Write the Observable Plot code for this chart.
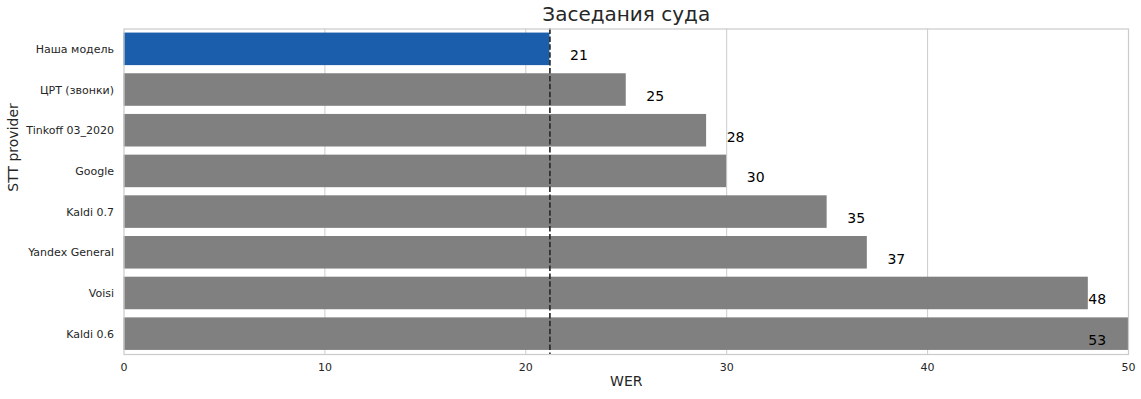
<!DOCTYPE html>
<html>
<head>
<meta charset="utf-8">
<script src="https://cdn.jsdelivr.net/npm/d3@7"></script>
<script src="https://cdn.jsdelivr.net/npm/@observablehq/plot@0.6"></script>
<style>
  html, body { margin: 0; padding: 0; background: #fff; }
  #chart { width: 1141px; height: 399px; }
  svg { font-family: "DejaVu Sans", sans-serif; }
</style>
</head>
<body>
<div id="chart"></div>
<script>
const providers = ["Наша модель", "ЦРТ (звонки)", "Tinkoff 03_2020", "Google", "Kaldi 0.7", "Yandex General", "Voisi", "Kaldi 0.6"];
const wer = [21.2, 25, 29, 30, 35, 37, 48, 53];
const werLabels = ["21", "25", "28", "30", "35", "37", "48", "53"];
const highlight = "Наша модель";
const baseline = 21.2;
const xTicks = [0, 10, 20, 30, 40, 50];
const title = "Заседания суда";

const data = providers.map((p, i) => ({provider: p, wer: wer[i], label: werLabels[i]}));

const chart = Plot.plot({
  width: 1141,
  height: 399,
  marginLeft: 123.5,
  marginRight: 13,
  marginTop: 28.5,
  marginBottom: 45,
  style: {fontFamily: "DejaVu Sans, sans-serif", background: "#fff"},
  x: {domain: [0, 50], clamp: true, ticks: xTicks, tickSize: 0, tickPadding: 9, label: null},
  y: {domain: providers, paddingInner: 0.2, paddingOuter: 0.1, round: false, tickSize: 0, tickPadding: 10, label: null},
  marks: [
    Plot.gridX(xTicks.slice(1, -1), {stroke: "#cccccc", strokeOpacity: 1, strokeWidth: 1}),
    Plot.barX(data, {x: "wer", y: "provider", fill: d => d.provider === highlight ? "#1b5eab" : "#808080"}),
    Plot.ruleX([baseline], {stroke: "#2b2b2b", strokeWidth: 1.7, strokeDasharray: "5.5,2.4"}),
    Plot.text(data, {x: d => Math.min(d.wer + 1, 48), y: "provider", text: "label", textAnchor: "start", dy: 6.5, fontSize: 14, fill: "#000"}),
    Plot.frame({stroke: "#cccccc", strokeWidth: 1.25}),
    Plot.axisX({ticks: xTicks, tickSize: 0, tickPadding: 9, fontSize: 11, fill: "#262626", label: null}),
    Plot.axisY({tickSize: 0, tickPadding: 10, fontSize: 11, fill: "#262626", label: null}),
    Plot.text([title], {frameAnchor: "top", dy: -14, fontSize: 20, fill: "#262626", lineAnchor: "middle"}),
    Plot.text(["WER"], {frameAnchor: "bottom", dy: 31, fontSize: 14, fill: "#262626"}),
    Plot.text(["STT provider"], {frameAnchor: "left", dx: -110, rotate: -90, fontSize: 14, fill: "#262626"})
  ]
});
document.getElementById("chart").appendChild(chart);
</script>
</body>
</html>
